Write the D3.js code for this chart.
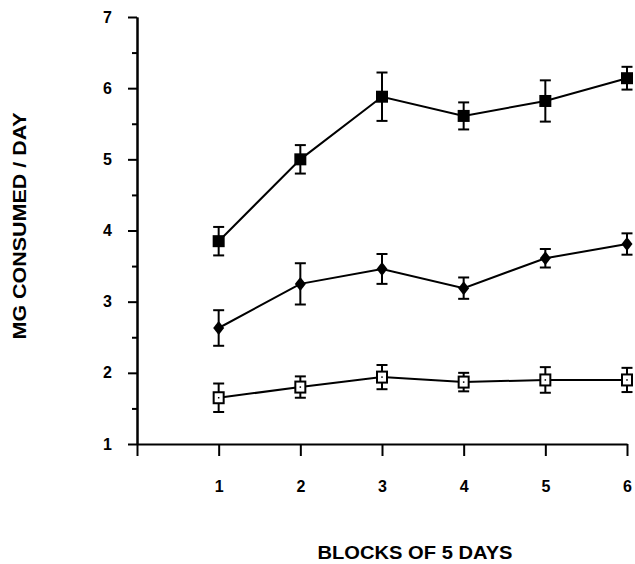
<!DOCTYPE html>
<html>
<head>
<meta charset="utf-8">
<script src="https://cdn.jsdelivr.net/npm/d3@7"></script>
<style>
  body { margin: 0; background: #fff; }
  svg { display: block; }
  .axis path, .axis line { stroke: #000; stroke-width: 2; }
  .title { font-family: "Liberation Sans", Arial, sans-serif; font-weight: bold; fill: #000; }
</style>
</head>
<body>
<div id="chart"></div>
<script>
var w = 635,
    h = 564;

// blocks of 5 days
var blocks = [1, 2, 3, 4, 5, 6];
var yTicks = [1, 2, 3, 4, 5, 6, 7];
var yMinor = [1.5, 2.5, 3.5, 4.5, 5.5, 6.5];
var xTicks = [0, 1, 2, 3, 4, 5, 6];

// mg consumed / day, means and error bars
var filledSquare = [3.85, 5.00, 5.88, 5.61, 5.82, 6.14];
var filledSquareErr = [0.20, 0.20, 0.34, 0.19, 0.29, 0.16];
var diamond = [2.63, 3.25, 3.46, 3.19, 3.61, 3.81];
var diamondErr = [0.25, 0.29, 0.21, 0.15, 0.13, 0.15];
var openSquare = [1.65, 1.80, 1.94, 1.87, 1.90, 1.90];
var openSquareErr = [0.20, 0.15, 0.17, 0.13, 0.18, 0.17];

var x = d3.scaleLinear().domain([0, 6]).range([137, 627]);
var y = d3.scaleLinear().domain([1, 7]).range([444, 17]);

var svg = d3.select("#chart").append("svg")
    .attr("width", w)
    .attr("height", h);

function tickText(g) {
  g.attr("font-size", 16)
   .attr("font-family", "'Liberation Sans', Arial, sans-serif");
  g.selectAll("text")
      .style("font-size", "16px")
      .style("font-weight", "bold")
      .attr("fill", "#000");
}

// axes
svg.append("g")
    .attr("class", "axis")
    .attr("transform", "translate(" + x(0) + ",0)")
    .call(d3.axisLeft(y).tickValues(yMinor).tickSize(5).tickSizeOuter(0).tickFormat(""));

svg.append("g")
    .attr("class", "axis")
    .attr("transform", "translate(" + x(0) + ",0)")
    .call(d3.axisLeft(y).tickValues(yTicks).tickSize(9).tickSizeOuter(0).tickPadding(16).tickFormat(d3.format("d")))
    .call(tickText);

svg.append("g")
    .attr("class", "axis")
    .attr("transform", "translate(0," + y(1) + ")")
    .call(d3.axisBottom(x).tickValues(xTicks).tickSize(12).tickSizeOuter(0).tickPadding(25)
      .tickFormat(function(d) { return d === 0 ? "" : d; }))
    .call(tickText);

var series = [
  { values: filledSquare, err: filledSquareErr, type: "filledSquare" },
  { values: diamond, err: diamondErr, type: "diamond" },
  { values: openSquare, err: openSquareErr, type: "openSquare" }
];

var line = d3.line()
    .x(function(d, i) { return x(blocks[i]); })
    .y(function(d) { return y(d); });

var capW = 5.5;

series.forEach(function(s) {
  var g = svg.append("g");

  g.append("path")
      .attr("d", line(s.values))
      .attr("fill", "none")
      .attr("stroke", "#000")
      .attr("stroke-width", 2);

  var bars = g.selectAll(".err")
      .data(s.values)
    .enter().append("g")
      .attr("class", "err")
      .attr("stroke", "#000")
      .attr("stroke-width", 2);

  bars.append("line")
      .attr("x1", function(d, i) { return x(blocks[i]); })
      .attr("x2", function(d, i) { return x(blocks[i]); })
      .attr("y1", function(d, i) { return y(d + s.err[i]); })
      .attr("y2", function(d, i) { return y(d - s.err[i]); });

  bars.append("line")
      .attr("x1", function(d, i) { return x(blocks[i]) - capW; })
      .attr("x2", function(d, i) { return x(blocks[i]) + capW; })
      .attr("y1", function(d, i) { return y(d + s.err[i]); })
      .attr("y2", function(d, i) { return y(d + s.err[i]); });

  bars.append("line")
      .attr("x1", function(d, i) { return x(blocks[i]) - capW; })
      .attr("x2", function(d, i) { return x(blocks[i]) + capW; })
      .attr("y1", function(d, i) { return y(d - s.err[i]); })
      .attr("y2", function(d, i) { return y(d - s.err[i]); });

  var pts = g.selectAll(".pt")
      .data(s.values)
    .enter().append("g")
      .attr("class", "pt")
      .attr("transform", function(d, i) { return "translate(" + x(blocks[i]) + "," + y(d) + ")"; });

  if (s.type == "filledSquare") {
    pts.append("rect")
        .attr("x", -6).attr("y", -6)
        .attr("width", 12).attr("height", 12)
        .attr("fill", "#000");
  } else if (s.type == "diamond") {
    pts.append("path")
        .attr("d", "M0,-7L5.5,0L0,7L-5.5,0Z")
        .attr("fill", "#000");
  } else {
    pts.append("rect")
        .attr("x", -5).attr("y", -5.5)
        .attr("width", 10).attr("height", 11)
        .attr("fill", "#fff")
        .attr("stroke", "#000")
        .attr("stroke-width", 2);
    pts.append("rect")
        .attr("x", -0.75).attr("y", -0.75)
        .attr("width", 1.5).attr("height", 1.5)
        .attr("fill", "#000");
  }
});

// titles
svg.append("text")
    .attr("class", "title")
    .attr("transform", "translate(26,226) rotate(-90)")
    .attr("text-anchor", "middle")
    .attr("font-size", "18px")
    .attr("textLength", 227)
    .attr("lengthAdjust", "spacingAndGlyphs")
    .text("MG CONSUMED / DAY");

svg.append("text")
    .attr("class", "title")
    .attr("x", 415)
    .attr("y", 559)
    .attr("text-anchor", "middle")
    .attr("font-size", "18px")
    .attr("textLength", 195)
    .attr("lengthAdjust", "spacingAndGlyphs")
    .text("BLOCKS OF 5 DAYS");
</script>
</body>
</html>
